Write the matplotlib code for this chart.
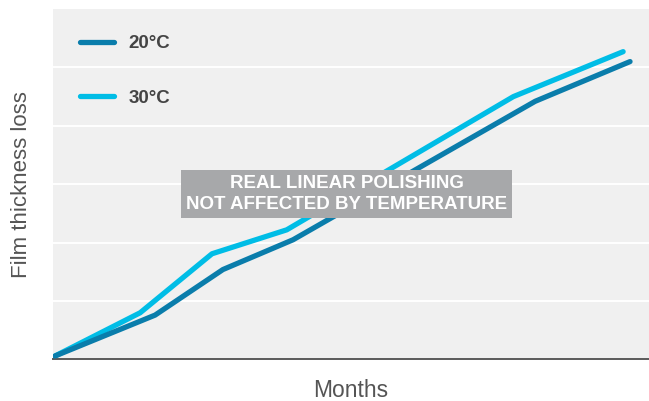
import matplotlib
matplotlib.use("Agg")

import matplotlib.pyplot as plt

# values (months vs. relative film thickness loss)
months_20 = [0, 1.74, 2.92, 4.14, 8.35, 10.0]
loss_20 = [0.06, 0.76, 1.54, 2.05, 4.42, 5.10]

months_30 = [0, 1.48, 2.73, 4.03, 7.97, 9.88]
loss_30 = [0.06, 0.80, 1.81, 2.22, 4.50, 5.27]

series_labels = ["20°C", "30°C"]
grid_levels = [1, 2, 3, 4, 5]

plt.rcParams["font.family"] = ["Liberation Sans", "DejaVu Sans"]

fig = plt.figure(figsize=(6.49, 4.01), dpi=100)
ax = fig.add_axes([0.0817, 0.1035, 0.9183, 0.874])
ax.set_facecolor("#f0f0f0")

for level in grid_levels:
    ax.axhline(level, color="white", linewidth=1.4, zorder=1)

ax.plot(months_20, loss_20, color="#0a7dab", linewidth=3.8,
        solid_capstyle="round", solid_joinstyle="round",
        label=series_labels[0], zorder=3)
ax.plot(months_30, loss_30, color="#00bde6", linewidth=3.8,
        solid_capstyle="round", solid_joinstyle="round",
        label=series_labels[1], zorder=2)

ax.set_xlim(-0.035, 10.33)
ax.set_ylim(0, 6.0)
ax.set_xticks([])
ax.set_yticks([])

for side in ["top", "left", "right"]:
    ax.spines[side].set_visible(False)
ax.spines["bottom"].set_color("#5a5a5a")
ax.spines["bottom"].set_linewidth(1.4)

ax.set_xlabel("Months", fontsize=16.5, color="#555555", labelpad=14)
ax.set_ylabel("Film thickness loss", fontsize=16, color="#555555", labelpad=15)

legend = ax.legend(
    loc="upper left",
    bbox_to_anchor=(0.046, 0.926),
    frameon=False,
    borderaxespad=0,
    borderpad=0,
    handlelength=1.8,
    handletextpad=0.75,
    labelspacing=2.0,
    prop={"size": 13.5, "weight": "bold"},
)
for text in legend.get_texts():
    text.set_color("#444444")

ax.text(
    0.493, 0.472,
    "REAL LINEAR POLISHING\nNOT AFFECTED BY TEMPERATURE",
    transform=ax.transAxes,
    ha="center", va="center",
    fontsize=13.5, fontweight="bold", color="white",
    linespacing=1.25,
    bbox=dict(boxstyle="square,pad=0.27", facecolor="#a7a8aa", edgecolor="none"),
    zorder=5,
)

fig.savefig("out.png", dpi=100)
plt.close(fig)
